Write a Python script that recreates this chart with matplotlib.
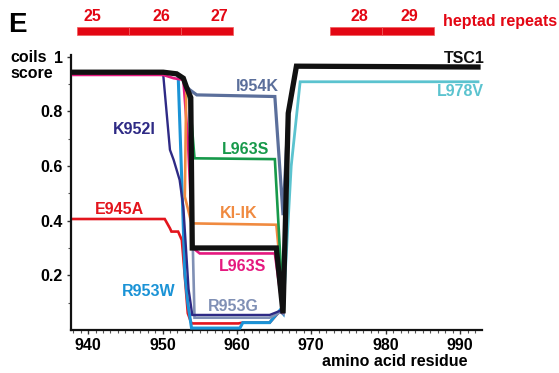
import matplotlib
matplotlib.use("Agg")
import matplotlib.pyplot as plt
from matplotlib.patches import Rectangle

plt.rcParams['font.family'] = ['Liberation Sans', 'DejaVu Sans']
plt.rcParams['font.weight'] = 'bold'

# ---------------- data ----------------
HEAD_X = [938.0, 950.1, 951.9, 952.8, 953.2]
HEAD_Y = [0.943, 0.943, 0.937, 0.921, 0.890]
TAIL_X = [966.9, 968.0, 992.4]
TAIL_Y = [0.793, 0.965, 0.962]

tsc1_x = HEAD_X + [953.8, 954.0, 965.3, 966.2] + TAIL_X
tsc1_y = HEAD_Y + [0.850, 0.300, 0.300, 0.061] + TAIL_Y

l978v_x = HEAD_X + [953.8, 954.0, 965.3, 966.2, 967.3, 968.5, 992.4]
l978v_y = HEAD_Y + [0.850, 0.300, 0.300, 0.061, 0.600, 0.908, 0.908]

i954k_x = HEAD_X + [953.7, 954.6, 965.1, 966.2] + TAIL_X
i954k_y = HEAD_Y + [0.878, 0.860, 0.854, 0.420] + TAIL_Y

l963s_g_x = HEAD_X + [953.7, 954.3, 965.1, 966.0, 966.3] + TAIL_X
l963s_g_y = HEAD_Y + [0.830, 0.628, 0.625, 0.183, 0.070] + TAIL_Y

kiik_x = HEAD_X + [953.0, 953.9, 965.3, 966.0, 966.2] + TAIL_X
kiik_y = HEAD_Y + [0.488, 0.390, 0.385, 0.180, 0.070] + TAIL_Y

l963s_p_x = [938.0, 950.1, 951.5, 952.8, 953.4, 954.1, 955.0, 965.1, 966.2] + TAIL_X
l963s_p_y = [0.933, 0.933, 0.921, 0.915, 0.700, 0.300, 0.280, 0.280, 0.060] + TAIL_Y

r953g_x = HEAD_X + [953.6, 954.3, 964.4, 965.8, 966.2] + TAIL_X
r953g_y = HEAD_Y + [0.850, 0.045, 0.045, 0.065, 0.060] + TAIL_Y

k952i_x = [938.0, 950.1, 951.0, 951.5, 952.3, 952.8, 953.5, 954.0, 964.4, 965.8, 966.2] + TAIL_X
k952i_y = [0.943, 0.933, 0.659, 0.622, 0.549, 0.450, 0.150, 0.055, 0.055, 0.070, 0.060] + TAIL_Y

e945a_x = [938.0, 950.3, 951.0, 951.2, 952.1, 952.6, 953.4, 953.9, 960.2, 960.8, 964.4, 965.8, 966.2] + TAIL_X
e945a_y = [0.406, 0.406, 0.372, 0.360, 0.360, 0.329, 0.061, 0.024, 0.024, 0.027, 0.027, 0.070, 0.060] + TAIL_Y

r953w_x = [938.0, 950.1, 951.9, 952.1, 952.6, 953.0, 953.4, 953.9, 960.4, 960.8, 964.4, 965.8, 966.2] + TAIL_X
r953w_y = [0.943, 0.943, 0.937, 0.935, 0.537, 0.207, 0.098, 0.007, 0.007, 0.027, 0.027, 0.073, 0.060] + TAIL_Y

heptad_labels = ['25', '26', '27', '28', '29']
heptad_start = [938.5, 945.5, 952.5, 972.5, 979.5]
heptad_label_x = [940.6, 949.9, 957.7, 976.5, 983.2]

x_ticks = [940, 950, 960, 970, 980, 990]
y_ticks = [0.2, 0.4, 0.6, 0.8, 1.0]
y_ticklabels = ['0.2', '0.4', '0.6', '0.8', '1']

# series: (name, x, y, color, lw, label_x, label_y)
series = [
    ('E945A', e945a_x, e945a_y, '#e3151d', 1.9, 944.2, 0.439),
    ('R953W', r953w_x, r953w_y, '#1b93d6', 2.2, 948.1, 0.140),
    ('R953G', r953g_x, r953g_y, '#8090b5', 1.9, 959.5, 0.085),
    ('K952I', k952i_x, k952i_y, '#2e2a85', 1.7, 946.2, 0.732),
    ('L963S', l963s_p_x, l963s_p_y, '#e5197f', 1.9, 960.8, 0.232),
    ('KI-IK', kiik_x, kiik_y, '#f08a40', 1.9, 960.2, 0.427),
    ('L963S', l963s_g_x, l963s_g_y, '#17994a', 1.9, 961.1, 0.659),
    ('I954K', i954k_x, i954k_y, '#5b6f9b', 2.3, 962.7, 0.890),
    ('L978V', l978v_x, l978v_y, '#5bc3cf', 2.0, 990.0, 0.872),
    ('TSC1', tsc1_x, tsc1_y, '#111111', 3.8, 990.6, 0.994),
]

# ---------------- figure ----------------
fig = plt.figure(figsize=(5.59, 3.73), dpi=100)
ax = fig.add_axes([0.127, 0.1153, 0.7347, 0.7373])

for i, (name, xs, ys, col, lw, lx, ly) in enumerate(series):
    ax.plot(xs, ys, color=col, lw=lw, solid_joinstyle='miter', zorder=2 + i)
    ax.text(lx, ly, name, color=col, fontsize=11.5, fontweight='bold',
            ha='center', va='center', zorder=20)

ax.set_xlim(937.7, 992.9)
ax.set_ylim(0, 1.006)

for s in ['top', 'right']:
    ax.spines[s].set_visible(False)
for s in ['left', 'bottom']:
    ax.spines[s].set_linewidth(1.6)
    ax.spines[s].set_color('#111111')

ax.set_xticks(x_ticks)
ax.set_xticklabels([str(t) for t in x_ticks], fontsize=11.5, fontweight='bold')
ax.set_xticks(list(range(938, 993)), minor=True)
ax.set_yticks(y_ticks)
ax.set_yticklabels(y_ticklabels, fontsize=11.5, fontweight='bold')
ax.set_yticks([0.1, 0.3, 0.5, 0.7, 0.9], minor=True)
ax.tick_params(axis='both', which='major', direction='out', length=3, width=1, color='#333333')
ax.tick_params(axis='both', which='minor', direction='out', length=2, width=0.8, color='#555555')
ax.tick_params(axis='x', which='major', pad=2.5)
ax.tick_params(axis='y', which='major', pad=3)

# heptad repeat bars
for st in heptad_start:
    ax.add_patch(Rectangle((st, 1.079), 7.0, 0.031, facecolor='#e30613',
                           edgecolor='#f05a5a', lw=0.5, clip_on=False, zorder=5))
for lab, lx in zip(heptad_labels, heptad_label_x):
    ax.text(lx, 1.146, lab, color='#e30613', fontsize=11.5, fontweight='bold',
            ha='center', va='center', clip_on=False)
ax.text(987.7, 1.128, 'heptad repeats', color='#e30613', fontsize=11.5,
        fontweight='bold', ha='left', va='center', clip_on=False)

fig.text(8 / 559, 1 - 12 / 373, 'E', fontsize=20, fontweight='bold', ha='left', va='top')
fig.text(10 / 559, 1 - 50 / 373, 'coils\nscore', fontsize=11.5, fontweight='bold',
         ha='left', va='top', linespacing=1.12)
fig.text(468 / 559, (373 - 361.7) / 373, 'amino acid residue', fontsize=11.5,
         fontweight='bold', ha='right', va='center')

fig.savefig('out.png', dpi=100)
